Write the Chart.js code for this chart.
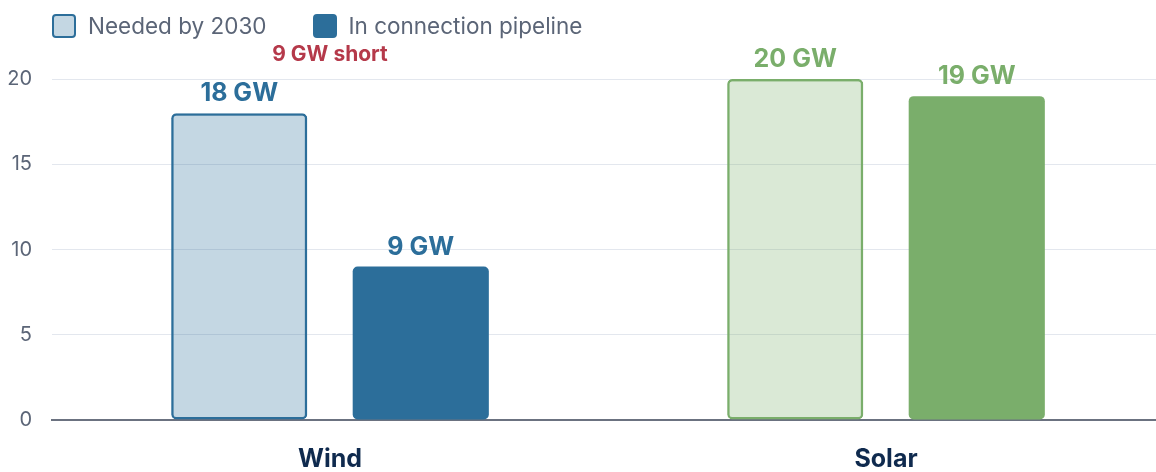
<!DOCTYPE html>
<html>
<head>
<meta charset="utf-8">
<script src="https://cdn.jsdelivr.net/npm/chart.js@4"></script>
<style>
  html, body { margin: 0; padding: 0; background: #fff; overflow: hidden; }
  .wrap { position: relative; width: 1164px; height: 472px; }
  #legend { position: absolute; left: 52px; top: 12px; display: flex; font-family: Inter, sans-serif; font-size: 22.5px; color: #5b6577; }
  #legend .item { display: flex; align-items: center; margin-right: 46px; }
  #legend .box { width: 20px; height: 20px; border-radius: 4px; border: 2px solid; margin-right: 12px; }
</style>
</head>
<body>
<div class="wrap">
  <div id="legend"></div>
  <canvas id="grafico" width="1164" height="472"></canvas>
</div>
<script>
// Datos del gráfico
const categories = ['Wind', 'Solar'];
const seriesNames = ['Needed by 2030', 'In connection pipeline'];
const neededGW = [18, 20];
const pipelineGW = [9, 19];
const shortNotes = ['9 GW short', ''];
const yTicks = [0, 5, 10, 15, 20];

// Colores por categoría
const solid = ['#2c6e9a', '#7aae6b'];
const light = ['rgba(44, 111, 154, 0.28)', 'rgba(122, 175, 107, 0.28)'];

// Etiquetas encima de las barras
const valueLabels = {
    id: 'valueLabels',
    afterDatasetsDraw(chart) {
        const ctx = chart.ctx;
        ctx.save();
        ctx.textAlign = 'center';
        ctx.textBaseline = 'alphabetic';
        chart.data.datasets.forEach((ds, i) => {
            chart.getDatasetMeta(i).data.forEach((bar, j) => {
                ctx.fillStyle = solid[j];
                ctx.font = 'bold 25px Inter';
                ctx.fillText(ds.data[j] + ' GW', bar.x, bar.y - 12);
            });
        });
        // nota de déficit
        const x = chart.scales.x;
        const y = chart.scales.y;
        ctx.fillStyle = '#b5394a';
        ctx.font = 'bold 21px Inter';
        shortNotes.forEach((note, j) => {
            if (note) ctx.fillText(note, x.getPixelForValue(j), y.getPixelForValue(neededGW[j]) - 52);
        });
        ctx.restore();
    }
};

const chart = new Chart(document.getElementById('grafico').getContext('2d'), {
    type: 'bar',
    data: {
        labels: categories,
        datasets: [{
            label: seriesNames[0],
            data: neededGW,
            backgroundColor: light,
            borderColor: solid,
            borderWidth: 2.5,
            borderRadius: 5,
            borderSkipped: false
        }, {
            label: seriesNames[1],
            data: pipelineGW,
            backgroundColor: solid,
            borderWidth: 0,
            borderRadius: 5,
            borderSkipped: false
        }]
    },
    options: {
        responsive: false,
        animation: false,
        categoryPercentage: 0.653,
        barPercentage: 0.75,
        layout: { padding: { left: 8, top: 45, right: 0, bottom: 0 } },
        plugins: { legend: { display: false }, tooltip: { enabled: false } },
        scales: {
            x: {
                grid: { display: false },
                border: { color: '#6b7280', width: 2 },
                ticks: { color: '#0f2a4e', font: { family: 'Inter', size: 25, weight: 'bold' }, padding: 16 },
                afterFit(axis) { axis.height = 52; }
            },
            y: {
                min: 0,
                max: 22,
                border: { display: false },
                grid: { color: '#e3e7ee', lineWidth: 1, drawTicks: false },
                ticks: { stepSize: 5, includeBounds: false, color: '#5b6577', font: { family: 'Inter', size: 20 }, padding: 20 },
                afterBuildTicks(axis) { axis.ticks = yTicks.map(v => ({ value: v })); },
                afterFit(axis) { axis.width = 44; }
            }
        }
    },
    plugins: [valueLabels]
});

// Leyenda en HTML
const legend = document.getElementById('legend');
chart.data.datasets.forEach((ds, i) => {
    const item = document.createElement('div');
    item.className = 'item';
    const box = document.createElement('span');
    box.className = 'box';
    box.style.background = i === 0 ? light[0] : solid[0];
    box.style.borderColor = solid[0];
    const txt = document.createElement('span');
    txt.textContent = ds.label;
    item.appendChild(box);
    item.appendChild(txt);
    legend.appendChild(item);
});
</script>
</body>
</html>
